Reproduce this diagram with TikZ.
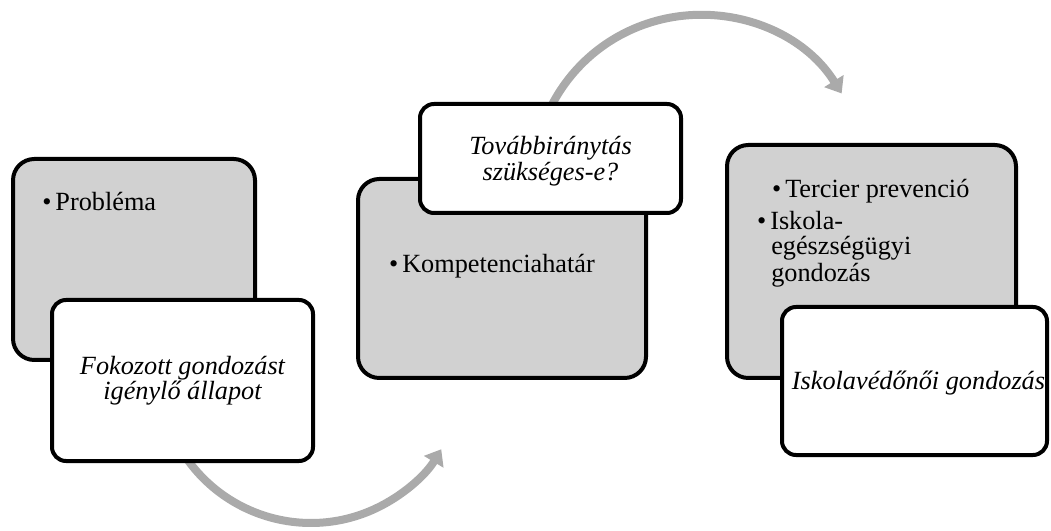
\documentclass[tikz,border=0pt]{standalone}
\usepackage{fontspec}
\setmainfont{Liberation Serif}
\usetikzlibrary{arrows.meta}
\definecolor{arcgray}{RGB}{170,170,170}
\definecolor{boxgray}{RGB}{209,209,209}
\tikzset{
  panel/.style={draw=black, line width=3pt, fill=boxgray, rounded corners=16pt, inner sep=0pt},
  card/.style={draw=black, line width=3pt, fill=white, rounded corners=10.5pt, inner sep=0pt},
  flow/.style={draw=arcgray, line width=6pt, -{Triangle[width=16.5pt,length=11pt]}},
  item/.style={anchor=base west, inner sep=0pt, font=\fontsize{19.7pt}{24pt}\selectfont},
  heading/.style={anchor=base, inner sep=0pt, font=\fontsize{19.7pt}{24pt}\selectfont\itshape},
}
\begin{document}
\begin{tikzpicture}[x=0.75pt,y=-0.75pt]
\useasboundingbox (0,0) rectangle (1051,531);

% curved connectors, drawn first so the boxes cover their starts
\coordinate (c1s) at (173.2,435.2);
\draw[flow] (c1s) arc[start angle=205, end angle=329, radius=114pt] coordinate (c1e);
\coordinate (c2s) at (543.1,239.1);
\draw[flow] (c2s) arc[start angle=200, end angle=32, radius=125.25pt] coordinate (c2e);

% grey panels
\node[panel, minimum width=181.5pt, minimum height=150.75pt] (g1) at (134,259.5) {};
\node[panel, minimum width=216pt, minimum height=149.25pt] (g2) at (502,278.5) {};
\node[panel, minimum width=216.75pt, minimum height=174.75pt] (g3) at (871.5,261.5) {};

% white cards
\node[card, minimum width=195.75pt, minimum height=120.75pt] (w1) at (182.5,380.5) {};
\node[card, minimum width=195.75pt, minimum height=81.75pt] (w2) at (550.5,158.5) {};
\node[card, minimum width=198.75pt, minimum height=111pt] (w3) at (914.5,381) {};

% bullet texts
\node[item] (t1) at (42,211) {•\hspace{3pt}Probléma};
\node[item] (t2) at (388.8,273) {•\hspace{3pt}Kompetenciahatár};
\node[item] (t3a) at (771.8,198) {•\hspace{3pt}Tercier prevenció};
\node[item] (t3b) at (756.8,230) {•\hspace{3pt}Iskola-};
\node[item] (t3c) at (771,255) {egészségügyi};
\node[item] (t3d) at (771,282) {gondozás};

% card titles
\node[heading] (h1a) at (182.5,374) {Fokozott gondozást};
\node[heading] (h1b) at (182.5,400) {igénylő állapot};
\node[heading] (h2a) at (550.5,155) {Továbbiránytás};
\node[heading] (h2b) at (550.5,181) {szükséges-e?};
\node[heading] (h3) at (918.5,390) {Iskolavédőnői gondozás};
\end{tikzpicture}
\end{document}
